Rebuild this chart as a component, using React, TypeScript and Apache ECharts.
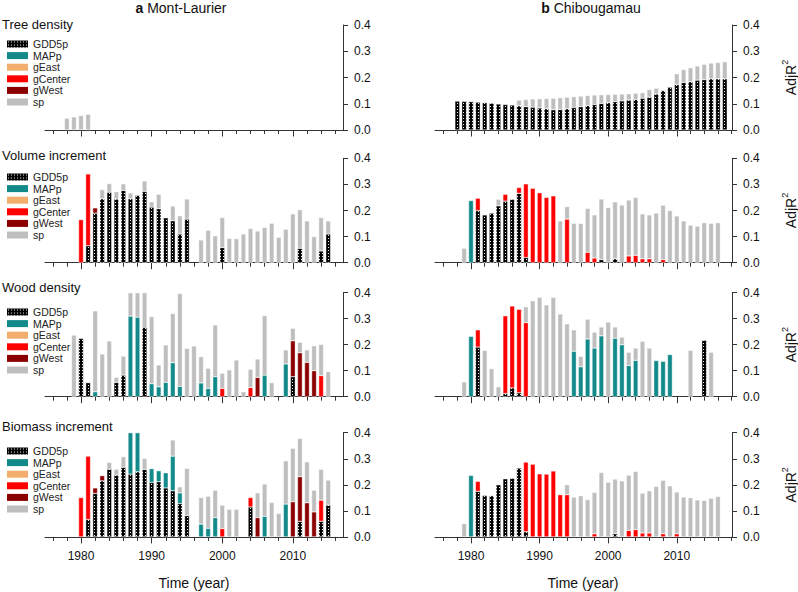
import React, { useEffect, useRef } from "react";
import * as echarts from "echarts";

type Pair = [number, number];

// ---------- categories / ticks ----------
const yearsA = [1978, 1979, 1980, 1981, 1982, 1983, 1984, 1985, 1986, 1987, 1988, 1989, 1990, 1991, 1992, 1993, 1994, 1995, 1996, 1997, 1998, 1999, 2000, 2001, 2002, 2003, 2004, 2005, 2006, 2007, 2008, 2009, 2010, 2011, 2012, 2013, 2014, 2015];
const yearsB = [1978, 1979, 1980, 1981, 1982, 1983, 1984, 1985, 1986, 1987, 1988, 1989, 1990, 1991, 1992, 1993, 1994, 1995, 1996, 1997, 1998, 1999, 2000, 2001, 2002, 2003, 2004, 2005, 2006, 2007, 2008, 2009, 2010, 2011, 2012, 2013, 2014, 2015, 2016, 2017];
const xTicksA = [1976, 1978, 1980, 1982, 1984, 1986, 1988, 1990, 1992, 1994, 1996, 1998, 2000, 2002, 2004, 2006, 2008, 2010, 2012, 2014, 2016];
const xTicksB = [1976, 1978, 1980, 1982, 1984, 1986, 1988, 1990, 1992, 1994, 1996, 1998, 2000, 2002, 2004, 2006, 2008, 2010, 2012, 2014, 2016, 2018];
const xLabelYears = [1980, 1990, 2000, 2010];
const COMPONENTS = ["GDD5p", "MAPp", "gEast", "gCenter", "gWest", "sp"];
const panelTitles = ["Tree density", "Volume increment", "Wood density", "Biomass increment"];

// ---------- a Mont-Laurier ----------
const tdA_sp: Pair[] = [[1978, 0.045], [1979, 0.05], [1980, 0.055], [1981, 0.06]];

const viA_GDD5p: Pair[] = [[1981, 0.065], [1982, 0.19], [1983, 0.245], [1984, 0.27], [1985, 0.244], [1986, 0.277], [1987, 0.245], [1988, 0.258], [1989, 0.273], [1990, 0.213], [1991, 0.207], [1992, 0.172], [1993, 0.161], [1994, 0.11], [1995, 0.167], [2000, 0.058], [2011, 0.055], [2014, 0.045], [2015, 0.11]];
const viA_gCenter: Pair[] = [[1980, 0.165], [1981, 0.275]];
const viA_gWest: Pair[] = [[1982, 0.02]];
const viA_sp: Pair[] = [[1983, 0.035], [1984, 0.033], [1985, 0.028], [1986, 0.025], [1987, 0.022], [1989, 0.04], [1990, 0.02], [1991, 0.055], [1993, 0.056], [1994, 0.07], [1995, 0.077], [1997, 0.087], [1998, 0.124], [1999, 0.103], [2000, 0.115], [2001, 0.093], [2002, 0.092], [2003, 0.11], [2004, 0.131], [2005, 0.121], [2006, 0.135], [2007, 0.151], [2008, 0.097], [2009, 0.128], [2010, 0.187], [2011, 0.148], [2012, 0.16], [2013, 0.1], [2014, 0.128], [2015, 0.05]];

const wdA_GDD5p: Pair[] = [[1980, 0.224], [1981, 0.054], [1985, 0.055], [1986, 0.083], [1989, 0.267], [2010, 0.077]];
const wdA_MAPp: Pair[] = [[1982, 0.019], [1987, 0.31], [1988, 0.306], [1990, 0.05], [1991, 0.038], [1992, 0.055], [1993, 0.131], [1994, 0.04], [1997, 0.053], [1998, 0.032], [1999, 0.077], [2006, 0.083], [2009, 0.126]];
const wdA_gCenter: Pair[] = [[2000, 0.032], [2004, 0.035], [2014, 0.081]];
const wdA_gWest: Pair[] = [[2005, 0.074], [2010, 0.138], [2011, 0.169], [2012, 0.132], [2013, 0.1]];
const wdA_sp: Pair[] = [[1979, 0.237], [1982, 0.311], [1983, 0.164], [1984, 0.214], [1985, 0.019], [1986, 0.073], [1987, 0.09], [1988, 0.094], [1989, 0.133], [1990, 0.258], [1991, 0.084], [1992, 0.144], [1993, 0.189], [1994, 0.357], [1995, 0.186], [1996, 0.195], [1997, 0.101], [1998, 0.077], [1999, 0.199], [2000, 0.058], [2001, 0.103], [2002, 0.141], [2003, 0.019], [2004, 0.07], [2005, 0.071], [2006, 0.229], [2007, 0.054], [2009, 0.054], [2010, 0.048], [2011, 0.04], [2012, 0.048], [2013, 0.096], [2014, 0.12], [2015, 0.096]];

const biA_GDD5p: Pair[] = [[1981, 0.067], [1982, 0.167], [1983, 0.215], [1984, 0.26], [1985, 0.237], [1986, 0.267], [1987, 0.241], [1988, 0.25], [1989, 0.259], [1990, 0.209], [1991, 0.212], [1992, 0.188], [1993, 0.177], [1994, 0.128], [1995, 0.082], [2004, 0.115], [2011, 0.06], [2014, 0.06], [2015, 0.122]];
const biA_MAPp: Pair[] = [[1987, 0.159], [1988, 0.15], [1990, 0.053], [1991, 0.042], [1992, 0.058], [1993, 0.133], [1994, 0.041], [1997, 0.049], [1998, 0.033], [1999, 0.074], [2006, 0.079], [2009, 0.126]];
const biA_gCenter: Pair[] = [[1980, 0.151], [1981, 0.243], [2000, 0.032], [2004, 0.036], [2014, 0.081]];
const biA_gWest: Pair[] = [[1982, 0.021], [1983, 0.02], [2005, 0.074], [2010, 0.135], [2011, 0.171], [2012, 0.131], [2013, 0.096]];
const biA_sp: Pair[] = [[1984, 0.026], [1985, 0.023], [1986, 0.041], [1989, 0.042], [1993, 0.062], [1994, 0.023], [1995, 0.181], [1997, 0.102], [1998, 0.123], [1999, 0.105], [2000, 0.09], [2001, 0.106], [2002, 0.106], [2005, 0.095], [2006, 0.124], [2007, 0.132], [2008, 0.09], [2009, 0.166], [2010, 0.205], [2011, 0.147], [2012, 0.157], [2013, 0.083], [2014, 0.118], [2015, 0.096]];

// ---------- b Chibougamau ----------
const tdB_GDD5p: Pair[] = [[1978, 0.11], [1979, 0.109], [1980, 0.108], [1981, 0.106], [1982, 0.104], [1983, 0.102], [1984, 0.099], [1985, 0.097], [1986, 0.095], [1987, 0.092], [1988, 0.089], [1989, 0.087], [1990, 0.084], [1991, 0.081], [1992, 0.077], [1993, 0.078], [1994, 0.081], [1995, 0.086], [1996, 0.089], [1997, 0.093], [1998, 0.097], [1999, 0.101], [2000, 0.104], [2001, 0.108], [2002, 0.111], [2003, 0.114], [2004, 0.116], [2005, 0.121], [2006, 0.125], [2007, 0.137], [2008, 0.15], [2009, 0.163], [2010, 0.173], [2011, 0.181], [2012, 0.184], [2013, 0.19], [2014, 0.192], [2015, 0.195], [2016, 0.195], [2017, 0.195]];
const tdB_sp: Pair[] = [[1987, 0.022], [1988, 0.027], [1989, 0.031], [1990, 0.035], [1991, 0.039], [1992, 0.044], [1993, 0.045], [1994, 0.044], [1995, 0.041], [1996, 0.04], [1997, 0.038], [1998, 0.036], [1999, 0.033], [2000, 0.031], [2001, 0.028], [2002, 0.026], [2003, 0.024], [2004, 0.024], [2005, 0.021], [2006, 0.029], [2007, 0.022], [2010, 0.041], [2011, 0.049], [2012, 0.053], [2013, 0.054], [2014, 0.058], [2015, 0.06], [2016, 0.062], [2017, 0.065]];

const viB_GDD5p: Pair[] = [[1981, 0.2], [1982, 0.183], [1983, 0.19], [1984, 0.218], [1985, 0.236], [1986, 0.243], [1987, 0.266], [1988, 0.02], [1999, 0.012], [2001, 0.015]];
const viB_MAPp: Pair[] = [[1980, 0.238]];
const viB_gCenter: Pair[] = [[1981, 0.047], [1985, 0.026], [1987, 0.022], [1988, 0.282], [1989, 0.285], [1990, 0.268], [1991, 0.25], [1992, 0.256], [1994, 0.167], [1997, 0.04], [1998, 0.018], [2003, 0.026], [2004, 0.028], [2005, 0.015], [2006, 0.015], [2008, 0.012]];
const viB_sp: Pair[] = [[1979, 0.055], [1984, 0.025], [1993, 0.16], [1994, 0.048], [1995, 0.151], [1996, 0.15], [1997, 0.168], [1998, 0.165], [1999, 0.232], [2000, 0.211], [2001, 0.218], [2002, 0.221], [2003, 0.214], [2004, 0.222], [2005, 0.172], [2006, 0.168], [2007, 0.19], [2008, 0.208], [2009, 0.2], [2010, 0.179], [2011, 0.16], [2012, 0.144], [2013, 0.14], [2014, 0.153], [2015, 0.151], [2016, 0.153]];

const wdB_GDD5p: Pair[] = [[1981, 0.191], [1985, 0.012], [1986, 0.034], [1987, 0.015], [2014, 0.217]];
const wdB_MAPp: Pair[] = [[1980, 0.232], [1995, 0.175], [1996, 0.115], [1997, 0.222], [1998, 0.187], [1999, 0.234], [2001, 0.225], [2002, 0.2], [2003, 0.12], [2004, 0.14], [2007, 0.139], [2008, 0.136], [2009, 0.162]];
const wdB_gCenter: Pair[] = [[1981, 0.066], [1985, 0.299], [1986, 0.315], [1987, 0.321], [1988, 0.285]];
const wdB_sp: Pair[] = [[1979, 0.057], [1982, 0.178], [1983, 0.108], [1984, 0.038], [1988, 0.061], [1989, 0.369], [1990, 0.382], [1991, 0.353], [1992, 0.382], [1993, 0.318], [1994, 0.28], [1995, 0.082], [1996, 0.04], [1997, 0.076], [1998, 0.061], [1999, 0.034], [2000, 0.287], [2001, 0.043], [2002, 0.029], [2003, 0.051], [2004, 0.047], [2005, 0.213], [2006, 0.187], [2012, 0.178], [2015, 0.171]];

const biB_GDD5p: Pair[] = [[1981, 0.175], [1982, 0.159], [1983, 0.158], [1984, 0.2], [1985, 0.223], [1986, 0.225], [1987, 0.264], [1988, 0.02], [2001, 0.012]];
const biB_MAPp: Pair[] = [[1980, 0.236]];
const biB_gCenter: Pair[] = [[1981, 0.038], [1988, 0.267], [1989, 0.279], [1990, 0.242], [1991, 0.241], [1992, 0.253], [1993, 0.162], [1994, 0.162], [1998, 0.012], [2003, 0.025], [2004, 0.028], [2005, 0.015], [2006, 0.015], [2008, 0.012], [2010, 0.012]];
const biB_sp: Pair[] = [[1979, 0.051], [1994, 0.038], [1995, 0.153], [1996, 0.158], [1997, 0.143], [1998, 0.159], [1999, 0.247], [2000, 0.21], [2001, 0.21], [2002, 0.215], [2003, 0.212], [2004, 0.223], [2005, 0.153], [2006, 0.162], [2007, 0.194], [2008, 0.205], [2009, 0.196], [2010, 0.16], [2011, 0.153], [2012, 0.15], [2013, 0.142], [2014, 0.14], [2015, 0.148], [2016, 0.155]];

const NONE: Pair[] = [];

// ---------- layout ----------
const FONT = "Liberation Sans, Arial, Helvetica, sans-serif";
const AXIS = "#333";
const TEXT = "#111";
const COLS = [
  { left: 45, width: 298, min: 1974.9, max: 2017.1, ticks: xTicksA, years: yearsA, cx: 194 },
  { left: 435, width: 297, min: 1974.75, max: 2018.05, ticks: xTicksB, years: yearsB, cx: 583 },
];
const ROWS = [
  { top: 25, height: 105, titleY: 24, legendTop: 39 },
  { top: 158.3, height: 104.4, titleY: 155, legendTop: 172 },
  { top: 292.7, height: 104, titleY: 287, legendTop: 307 },
  { top: 432.7, height: 104.2, titleY: 426, legendTop: 446 },
];

function makeDots(): string {
  const c = document.createElement("canvas");
  c.width = 3;
  c.height = 3;
  const ctx = c.getContext("2d")!;
  ctx.fillStyle = "#000";
  ctx.fillRect(0, 0, 3, 3);
  ctx.fillStyle = "#e8e8e8";
  ctx.fillRect(1, 1, 1, 1);
  return c.toDataURL();
}

export default function App() {
  const ref = useRef<HTMLDivElement>(null);
  useEffect(() => {
    if (!ref.current) return;
    const chart = echarts.init(ref.current, undefined, { renderer: "svg" });
    const dots = { image: makeDots(), repeat: "repeat", imageWidth: 3, imageHeight: 3 };
    const COLORS: any[] = [dots, "#128a8a", "#f3ae6e", "#ff0000", "#8b0000", "#bebebe"];

    const panels = [
      { col: 0, row: 0, data: [NONE, NONE, NONE, NONE, NONE, tdA_sp] },
      { col: 0, row: 1, data: [viA_GDD5p, NONE, NONE, viA_gCenter, viA_gWest, viA_sp] },
      { col: 0, row: 2, data: [wdA_GDD5p, wdA_MAPp, NONE, wdA_gCenter, wdA_gWest, wdA_sp] },
      { col: 0, row: 3, data: [biA_GDD5p, biA_MAPp, NONE, biA_gCenter, biA_gWest, biA_sp] },
      { col: 1, row: 0, data: [tdB_GDD5p, NONE, NONE, NONE, NONE, tdB_sp] },
      { col: 1, row: 1, data: [viB_GDD5p, viB_MAPp, NONE, viB_gCenter, NONE, viB_sp] },
      { col: 1, row: 2, data: [wdB_GDD5p, wdB_MAPp, NONE, wdB_gCenter, NONE, wdB_sp] },
      { col: 1, row: 3, data: [biB_GDD5p, biB_MAPp, NONE, biB_gCenter, NONE, biB_sp] },
    ];

    const grid: any[] = [];
    const xAxis: any[] = [];
    const yAxis: any[] = [];
    const series: any[] = [];
    panels.forEach((p, i) => {
      const c = COLS[p.col];
      const r = ROWS[p.row];
      const ppy = c.width / (c.max - c.min);
      const gAxis = grid.length;
      grid.push({ left: c.left, width: c.width, top: r.top, height: r.height });
      xAxis.push({
        gridIndex: gAxis, type: "value", min: c.min, max: c.max, position: "bottom",
        axisLine: { show: true, onZero: false, lineStyle: { color: AXIS, width: 1 } },
        axisTick: { show: true, length: 4, customValues: c.ticks, lineStyle: { color: AXIS } },
        axisLabel: { show: p.row === 3, customValues: xLabelYears, formatter: (v: number) => String(v), fontSize: 12, margin: 13, color: TEXT, fontFamily: FONT },
        splitLine: { show: false },
      });
      xAxis.push({
        gridIndex: gAxis, type: "value", min: c.min, max: c.max, position: "bottom",
        axisLine: { show: false },
        axisTick: { show: true, length: 6.5, customValues: xLabelYears, lineStyle: { color: AXIS } },
        axisLabel: { show: false },
        splitLine: { show: false },
      });
      yAxis.push({
        gridIndex: gAxis, type: "value", position: "right", min: 0, max: 0.4, interval: 0.1,
        axisLine: { show: true, lineStyle: { color: AXIS, width: 1 } },
        axisTick: { show: true, length: 5, lineStyle: { color: AXIS } },
        axisLabel: { formatter: (v: number) => v.toFixed(1), fontSize: 12, margin: 11, color: TEXT, fontFamily: FONT },
        splitLine: { show: false },
      });
      const gBar = grid.length;
      grid.push({
        left: c.left + (c.years[0] - 0.5 - c.min) * ppy,
        width: c.years.length * ppy,
        top: r.top, height: r.height,
      });
      const xBar = xAxis.length;
      xAxis.push({ gridIndex: gBar, type: "category", data: c.years, show: false });
      const yBar = yAxis.length;
      yAxis.push({ gridIndex: gBar, type: "value", min: 0, max: 0.4, show: false });
      COMPONENTS.forEach((name, k) => {
        const lookup = new Map<number, number>(p.data[k]);
        series.push({
          type: "bar", name, xAxisIndex: xBar, yAxisIndex: yBar, stack: "p" + i,
          barWidth: 4.8, silent: true,
          data: c.years.map((y) => (lookup.has(y) ? lookup.get(y) : null)),
          itemStyle: { color: COLORS[k], borderColor: "#fff", borderWidth: 0.4 },
        });
      });
    });

    const legend = ROWS.map((r) => ({
      orient: "vertical", left: 7, top: r.legendTop - 0.5, padding: 0,
      itemWidth: 21, itemHeight: 7, itemGap: 0.6, icon: "rect",
      selectedMode: false, data: COMPONENTS,
      itemStyle: { borderWidth: 0 },
      textStyle: { fontSize: 10.5, lineHeight: 11, color: "#222", fontFamily: FONT },
    }));

    const graphic: any[] = [
      { type: "text", x: 181, y: 8, style: { text: "{b|a} Mont-Laurier", rich: { b: { fontWeight: "bold", fontSize: 14, fontFamily: FONT, fill: TEXT } }, fontSize: 14, fontFamily: FONT, fill: TEXT, align: "center", verticalAlign: "middle" } },
      { type: "text", x: 591, y: 8, style: { text: "{b|b} Chibougamau", rich: { b: { fontWeight: "bold", fontSize: 14, fontFamily: FONT, fill: TEXT } }, fontSize: 14, fontFamily: FONT, fill: TEXT, align: "center", verticalAlign: "middle" } },
    ];
    ROWS.forEach((r, i) => {
      graphic.push({ type: "text", x: 2, y: r.titleY, style: { text: panelTitles[i], fontSize: 13, fontFamily: FONT, fill: TEXT, align: "left", verticalAlign: "middle" } });
      graphic.push({
        type: "text", x: 789, y: r.top + r.height / 2, rotation: Math.PI / 2,
        style: {
          text: "{m|AdjR}{s|2}", align: "center", verticalAlign: "middle",
          rich: {
            m: { fontSize: 14, fontFamily: FONT, fill: TEXT, lineHeight: 18, verticalAlign: "bottom" },
            s: { fontSize: 9, fontFamily: FONT, fill: TEXT, lineHeight: 18, verticalAlign: "top" },
          },
        },
      });
    });
    COLS.forEach((c) => {
      graphic.push({ type: "text", x: c.cx, y: 583, style: { text: "Time (year)", fontSize: 14, fontFamily: FONT, fill: TEXT, align: "center", verticalAlign: "middle" } });
    });

    chart.setOption({ animation: false, backgroundColor: "#fff", grid, xAxis, yAxis, series, legend, graphic });
    return () => chart.dispose();
  }, []);
  return <div ref={ref} style={{ position: "absolute", left: 0, top: 0, width: 798, height: 592 }} />;
}
